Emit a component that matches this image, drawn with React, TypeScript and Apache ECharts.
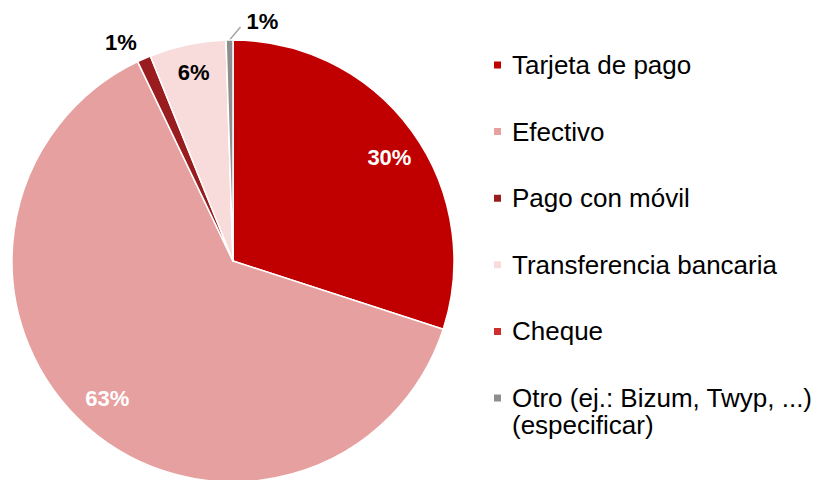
import React, { useEffect, useRef } from 'react';
import * as echarts from 'echarts';

const categories = [
  'Tarjeta de pago',
  'Efectivo',
  'Pago con móvil',
  'Transferencia bancaria',
  'Cheque',
  'Otro (ej.: Bizum, Twyp, ...)\n(especificar)',
];
const values = [30.0, 62.9, 1.0, 5.6, 0.0, 0.5];
const colors = ['#C00000', '#E6A09F', '#991C1E', '#F8DCDC', '#CF2E2E', '#8E8E8E'];
const insideLabelIdx = [0, 1, 3];
const insideLabelColors = ['#FFFFFF', '#FFFFFF', '#000000'];
const insideLabelOffsets = [[2, 9], [0, -6], [0, -2]];
const outsideLabelIdx = [2, 5];

const FONT = '"Liberation Sans", Arial, sans-serif';
const LEGEND_FONT = 26;
const LEGEND_LINE = 27;

export default function App() {
  const ref = useRef<HTMLDivElement>(null);

  useEffect(() => {
    document.body.style.margin = '0';
    if (!ref.current) return;
    const chart = echarts.init(ref.current, null, { renderer: 'svg' });
    const center = [233, 261];
    const R = 221;
    const fmt = (p: any) => Math.round(p.value) + '%';

    const mainData = categories.map((name, i) => {
      const outside = outsideLabelIdx.includes(i);
      const item: any = {
        name,
        value: values[i],
        itemStyle: { color: colors[i] },
        label: { show: false },
        labelLine: { show: false },
      };
      if (outside) {
        item.label = {
          show: true,
          position: 'outside',
          formatter: fmt,
          color: '#000',
          fontSize: 22,
          fontWeight: 'bold',
          fontFamily: FONT,
          distanceToLabelLine: 0,
        };
        item.labelLine =
          i === 5
            ? { show: true, length: 15, length2: 0, lineStyle: { color: '#A6A6A6', width: 1.5 } }
            : { show: false, length: 18, length2: 0 };
      }
      return item;
    });

    const overlayData = categories.map((name, i) => {
      const k = insideLabelIdx.indexOf(i);
      return {
        name,
        value: values[i],
        label:
          k >= 0
            ? {
                show: true,
                position: 'inside',
                formatter: fmt,
                color: insideLabelColors[k],
                fontSize: 22,
                fontWeight: 'bold',
                fontFamily: FONT,
                offset: insideLabelOffsets[k],
              }
            : { show: false },
      };
    });

    const legendTop = 50;
    const itemBox = 30;
    const itemGap = 36.6;
    const otherLine1Center = legendTop + 5 * (itemBox + itemGap) + itemBox / 2;
    const otherLines = categories[5].split('\n');

    chart.setOption({
      animation: false,
      legend: {
        orient: 'vertical',
        left: 492,
        top: legendTop,
        padding: 0,
        icon: 'rect',
        itemWidth: 9,
        itemHeight: 9,
        itemGap,
        selectedMode: false,
        formatter: (name: string) => name.split('\n')[0],
        textStyle: {
          fontSize: LEGEND_FONT,
          fontFamily: FONT,
          color: '#000',
          lineHeight: itemBox,
          padding: [0, 0, 0, 5],
        },
        data: categories,
      },
      graphic: [
        {
          type: 'text',
          left: 512,
          top: otherLine1Center + LEGEND_LINE - itemBox / 2,
          style: {
            text: otherLines[1],
            font: `${LEGEND_FONT}px ${FONT}`,
            fill: '#000',
            lineHeight: itemBox,
          },
        },
      ],
      series: [
        {
          type: 'pie',
          center,
          radius: R,
          startAngle: 90,
          clockwise: true,
          avoidLabelOverlap: false,
          stillShowZeroSum: true,
          itemStyle: { borderColor: '#FFFFFF', borderWidth: 1.5 },
          emphasis: { disabled: true },
          data: mainData,
          labelLayout: (p: any) => {
            if (p.dataIndex !== 5 || !p.labelLinePoints) return {};
            const s = p.labelLinePoints[0];
            const e = [s[0] + 11, s[1] - 13];
            return {
              x: e[0] + 6,
              y: e[1] - 6,
              align: 'left',
              verticalAlign: 'middle',
              labelLinePoints: [s, e, e],
            };
          },
        },
        {
          type: 'pie',
          center,
          radius: [R * 0.7, R],
          startAngle: 90,
          clockwise: true,
          silent: true,
          avoidLabelOverlap: false,
          itemStyle: { color: 'rgba(0,0,0,0)', borderWidth: 0 },
          emphasis: { disabled: true },
          labelLine: { show: false },
          data: overlayData,
        },
      ],
    });
    return () => chart.dispose();
  }, []);

  return <div ref={ref} style={{ width: 820, height: 480 }} />;
}
